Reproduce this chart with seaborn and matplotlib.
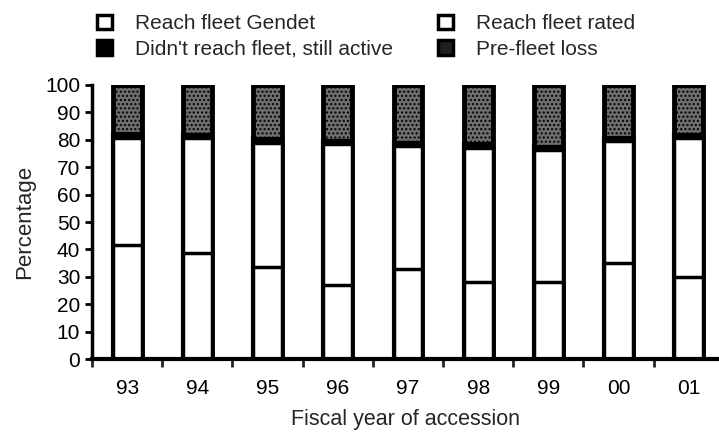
import numpy as np
import pandas as pd
import matplotlib
matplotlib.use('Agg')
import matplotlib.pyplot as plt
import seaborn as sns
from matplotlib.patches import Patch

years = ['93', '94', '95', '96', '97', '98', '99', '00', '01']
gendet = [41.5, 38.6, 33.5, 27.1, 32.9, 28.0, 28.0, 35.0, 29.9]
rated = [39.0, 42.1, 45.4, 51.3, 44.8, 49.1, 48.2, 44.5, 50.6]
active = [1.5, 1.2, 1.3, 1.2, 1.2, 1.3, 1.3, 1.2, 1.2]
loss = [100 - g - r - a for g, r, a in zip(gendet, rated, active)]

df = pd.DataFrame({'year': years, 'gendet': gendet, 'rated': rated,
                   'active': active, 'loss': loss})
# cumulative tops for stacking
df['c_gendet'] = df['gendet']
df['c_rated'] = df['c_gendet'] + df['rated']
df['c_active'] = df['c_rated'] + df['active']
df['c_loss'] = df['c_active'] + df['loss']

sns.set_theme(style='ticks')
plt.rcParams['font.family'] = ['Liberation Sans', 'DejaVu Sans']
plt.rcParams['hatch.color'] = '#e8e8e8'
plt.rcParams['hatch.linewidth'] = 1.0

fig = plt.figure(figsize=(7.19, 4.38), dpi=100)
ax = fig.add_axes([0.128, 0.18, 0.872, 0.626])

w = 0.41
loss_col = '#6e6e6e'
sns.barplot(data=df, x='year', y='c_loss', color=loss_col, width=w,
            edgecolor='black', linewidth=3.5, hatch='....', ax=ax)
sns.barplot(data=df, x='year', y='c_active', color='black', width=w,
            edgecolor='black', linewidth=3, ax=ax)
sns.barplot(data=df, x='year', y='c_rated', color='white', width=w,
            edgecolor='black', linewidth=2.5, ax=ax)
sns.barplot(data=df, x='year', y='c_gendet', color='white', width=w,
            edgecolor='black', linewidth=2.5, ax=ax)

ax.set_ylim(0, 100)
ax.set_xlim(-0.5, 8.43)
ax.set_yticks(range(0, 101, 10))
ax.tick_params(axis='y', labelsize=15, length=5, width=2, colors='black')
ax.tick_params(axis='x', which='major', labelsize=15, length=0, pad=14, colors='black')
ax.set_xticks(np.arange(-0.5, 8.5, 1), minor=True)
ax.tick_params(axis='x', which='minor', length=6, width=2, direction='out')
ax.set_xlabel('Fiscal year of accession', fontsize=15.5, labelpad=8)
ax.set_ylabel('Percentage', fontsize=16, labelpad=7)
sns.despine(ax=ax, top=True, right=True)
ax.spines['left'].set_linewidth(2.5)
ax.spines['left'].set_color('black')
ax.spines['bottom'].set_linewidth(3)
ax.spines['bottom'].set_color('black')

handles = [
    Patch(facecolor='white', edgecolor='black', linewidth=2.5, label='Reach fleet Gendet'),
    Patch(facecolor='black', edgecolor='black', linewidth=2.5, label="Didn't reach fleet, still active"),
    Patch(facecolor='white', edgecolor='black', linewidth=2.5, label='Reach fleet rated'),
    Patch(facecolor='#202020', edgecolor='black', linewidth=2.5, label='Pre-fleet loss'),
]
fig.legend(handles=handles, ncol=2, loc='upper left', bbox_to_anchor=(0.109, 1.01),
           frameon=False, fontsize=15, handlelength=0.7, handleheight=0.7,
           handletextpad=1.1, columnspacing=2.2, labelspacing=0.3)

fig.savefig('out.png', dpi=100)
